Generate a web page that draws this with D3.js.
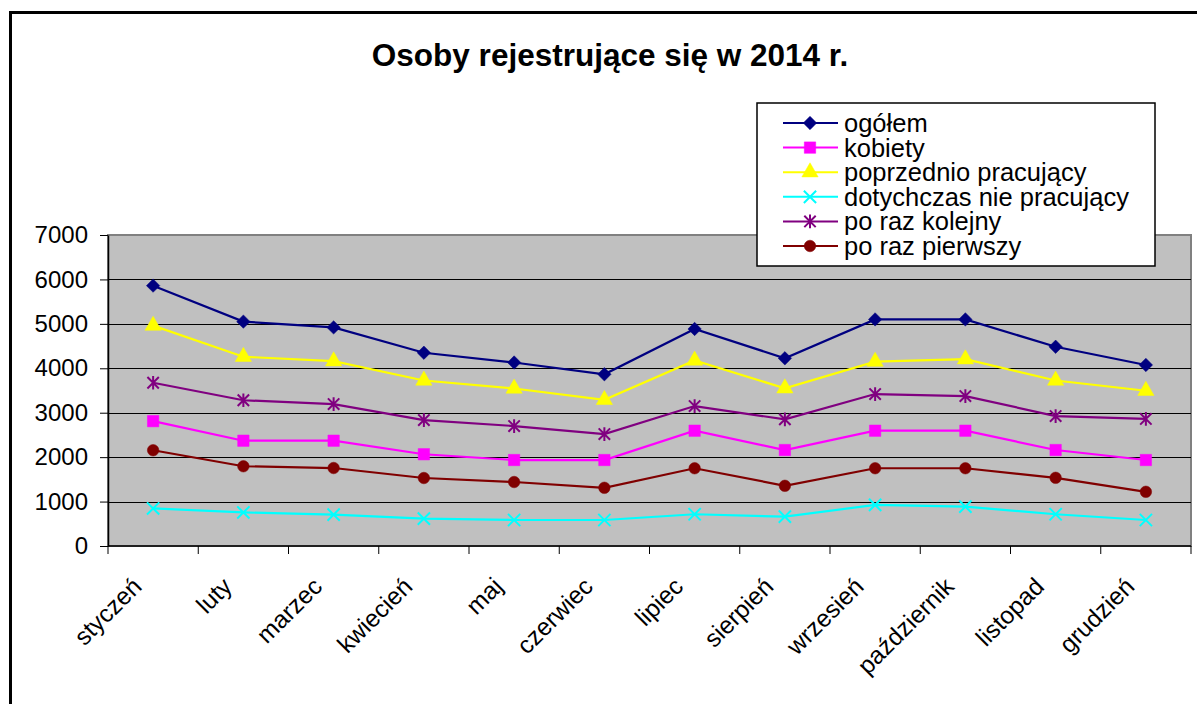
<!DOCTYPE html>
<html>
<head>
<meta charset="utf-8">
<script src="https://cdn.jsdelivr.net/npm/d3@7"></script>
<style>
  body { margin: 0; background: #fff; }
  svg { display: block; font-family: Arial, "Liberation Sans", sans-serif; }
</style>
</head>
<body>
<svg id="chart"></svg>
<script>
// data
const months = ["styczeń", "luty", "marzec", "kwiecień", "maj", "czerwiec",
  "lipiec", "sierpień", "wrzesień", "październik", "listopad", "grudzień"];
const seriesNames = ["ogółem", "kobiety", "poprzednio pracujący",
  "dotychczas nie pracujący", "po raz kolejny", "po raz pierwszy"];
const ogolem      = [5860, 5050, 4920, 4350, 4130, 3865, 4885, 4225, 5100, 5100, 4485, 4075];
const kobiety     = [2810, 2370, 2370, 2065, 1935, 1935, 2595, 2160, 2595, 2595, 2160, 1935];
const poprzednio  = [4960, 4260, 4160, 3725, 3545, 3290, 4175, 3550, 4150, 4205, 3725, 3495];
const dotychczas  = [845, 755, 705, 615, 585, 585, 715, 660, 925, 885, 715, 585];
const kolejny     = [3675, 3280, 3195, 2835, 2700, 2520, 3150, 2850, 3420, 3375, 2925, 2860];
const pierwszy    = [2155, 1795, 1755, 1530, 1440, 1310, 1750, 1355, 1750, 1750, 1535, 1220];
const yTicks = [0, 1000, 2000, 3000, 4000, 5000, 6000, 7000];

const seriesValues = [ogolem, kobiety, poprzednio, dotychczas, kolejny, pierwszy];
const colors = ["#000080", "#ff00ff", "#ffff00", "#00ffff", "#800080", "#800000"];

// custom marker shapes (excel style)
const symDiamond = { draw(ctx, size) { const r = Math.sqrt(size) / 2;
  ctx.moveTo(0, -r); ctx.lineTo(r, 0); ctx.lineTo(0, r); ctx.lineTo(-r, 0); ctx.closePath(); } };
const symX = { draw(ctx, size) { const r = Math.sqrt(size) / 2;
  ctx.moveTo(-r, -r); ctx.lineTo(r, r); ctx.moveTo(r, -r); ctx.lineTo(-r, r); } };
const symStar = { draw(ctx, size) { const r = Math.sqrt(size) / 2;
  ctx.moveTo(-r, -r); ctx.lineTo(r, r); ctx.moveTo(r, -r); ctx.lineTo(-r, r);
  ctx.moveTo(0, -r * 1.2); ctx.lineTo(0, r * 1.2); } };
const markers = [
  { type: symDiamond, size: 180, fill: true },
  { type: d3.symbolSquare, size: 130, fill: true },
  { type: d3.symbolTriangle, size: 115, fill: true },
  { type: symX, size: 150, fill: false },
  { type: symStar, size: 130, fill: false },
  { type: d3.symbolCircle, size: 105, fill: true }
];

const W = 1197, H = 704;
const plot = { left: 108, right: 1191, top: 235, bottom: 546 };

const svg = d3.select("#chart").attr("width", W).attr("height", H);

// outer frame
svg.append("rect")
  .attr("x", 10.5).attr("y", 12.5)
  .attr("width", W + 20).attr("height", H + 20)
  .attr("fill", "#fff").attr("stroke", "#000").attr("stroke-width", 3);

// title
svg.append("text")
  .attr("x", 610).attr("y", 66)
  .attr("text-anchor", "middle")
  .style("font-weight", "bold")
  .style("font-size", "31.5px")
  .text("Osoby rejestrujące się w 2014 r.");

const x = d3.scaleBand().domain(months).range([plot.left, plot.right]);
const y = d3.scaleLinear().domain([0, 7000]).range([plot.bottom, plot.top]);

// plot area
svg.append("rect")
  .attr("x", plot.left).attr("y", plot.top)
  .attr("width", plot.right - plot.left).attr("height", plot.bottom - plot.top)
  .attr("fill", "#c0c0c0").attr("stroke", "#808080").attr("stroke-width", 2);

// gridlines
svg.append("g")
  .selectAll("line")
  .data(yTicks.filter(d => d > 0 && d < 7000))
  .join("line")
  .attr("x1", plot.left).attr("x2", plot.right)
  .attr("y1", d => Math.round(y(d)) + 0.5).attr("y2", d => Math.round(y(d)) + 0.5)
  .attr("stroke", "#000").attr("stroke-width", 1);

// y axis
const yAxis = svg.append("g")
  .attr("transform", `translate(${plot.left},0)`)
  .call(d3.axisLeft(y).tickValues(yTicks).tickFormat(d3.format("d"))
    .tickSize(8).tickPadding(12).tickSizeOuter(0));
yAxis.select(".domain").attr("stroke", "#000").attr("stroke-width", 1.5);
yAxis.selectAll("text").style("font-size", "24px").attr("fill", "#000")
  .style("font-family", "Arial, 'Liberation Sans', sans-serif");

// x axis
const xTickPos = months.map(m => x(m)).concat([plot.right]);
const xAxis = svg.append("g");
xAxis.append("line")
  .attr("x1", plot.left).attr("x2", plot.right)
  .attr("y1", plot.bottom).attr("y2", plot.bottom)
  .attr("stroke", "#000").attr("stroke-width", 1.5);
xAxis.selectAll("line.tick")
  .data(xTickPos)
  .join("line")
  .attr("class", "tick")
  .attr("x1", d => d).attr("x2", d => d)
  .attr("y1", plot.bottom).attr("y2", plot.bottom + 8)
  .attr("stroke", "#000").attr("stroke-width", 1);
xAxis.selectAll("text")
  .data(months)
  .join("text")
  .attr("text-anchor", "end")
  .attr("transform", d => `translate(${x(d) + x.bandwidth() / 2 - 10},${plot.bottom + 42}) rotate(-45)`)
  .style("font-size", "24.5px")
  .text(d => d);

// series
const line = d3.line()
  .x((d, i) => x(months[i]) + x.bandwidth() / 2)
  .y(d => y(d));

seriesValues.forEach((vals, s) => {
  const g = svg.append("g");
  g.append("path")
    .datum(vals)
    .attr("d", line)
    .attr("fill", "none")
    .attr("stroke", colors[s])
    .attr("stroke-width", 2.2);
  const m = markers[s];
  g.selectAll("path.mk")
    .data(vals)
    .join("path")
    .attr("class", "mk")
    .attr("transform", (d, i) => `translate(${x(months[i]) + x.bandwidth() / 2},${y(d)})`)
    .attr("d", d3.symbol().type(m.type).size(m.size))
    .attr("fill", m.fill ? colors[s] : "none")
    .attr("stroke", colors[s])
    .attr("stroke-width", m.fill ? 0.5 : 2);
});

// legend
const lg = svg.append("g");
lg.append("rect")
  .attr("x", 757).attr("y", 103)
  .attr("width", 398).attr("height", 163)
  .attr("fill", "#fff").attr("stroke", "#000").attr("stroke-width", 1.5);
const rows = lg.selectAll("g.row")
  .data(seriesNames)
  .join("g")
  .attr("class", "row")
  .attr("transform", (d, i) => `translate(0,${123 + i * 24.6})`);
rows.append("line")
  .attr("x1", 783).attr("x2", 838)
  .attr("stroke", (d, i) => colors[i]).attr("stroke-width", 2);
rows.append("path")
  .attr("transform", "translate(810,0)")
  .attr("d", (d, i) => d3.symbol().type(markers[i].type).size(markers[i].size)())
  .attr("fill", (d, i) => markers[i].fill ? colors[i] : "none")
  .attr("stroke", (d, i) => colors[i])
  .attr("stroke-width", (d, i) => markers[i].fill ? 0.5 : 2);
rows.append("text")
  .attr("x", 844).attr("y", 9)
  .style("font-size", "25.5px")
  .text(d => d);
</script>
</body>
</html>
